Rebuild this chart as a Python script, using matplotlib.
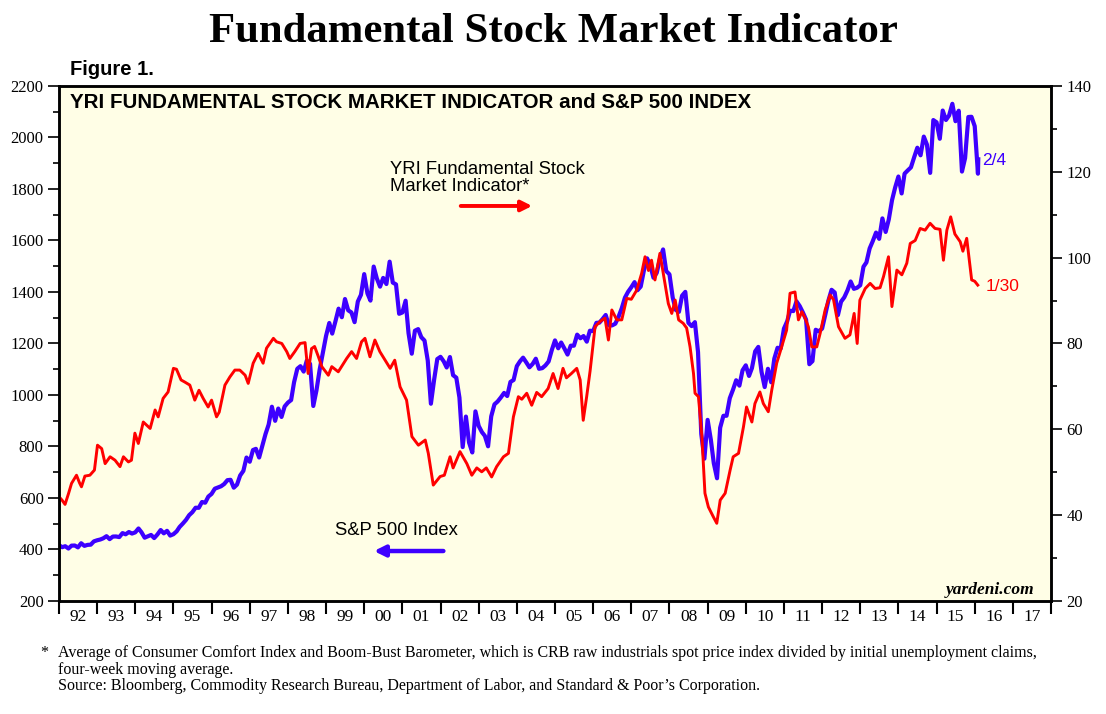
import numpy as np
import pandas as pd
import matplotlib
matplotlib.use('Agg')
import matplotlib.pyplot as plt
from matplotlib.ticker import MultipleLocator

# S&P 500, month-end values (Dec 1991 .. Jan 2016), big intra-month dips as seen on chart
sp500 = [
    417.1,
    408.8, 412.7, 403.7, 414.9, 415.4, 408.1, 424.2, 414.0, 417.8, 418.7, 431.4, 435.7,  # 92
    438.8, 443.4, 451.7, 440.2, 450.2, 450.5, 448.1, 463.6, 458.9, 467.8, 461.8, 466.5,  # 93
    481.6, 467.1, 445.8, 450.9, 456.5, 444.3, 458.3, 475.5, 462.7, 472.4, 454.0, 459.3,  # 94
    470.4, 487.4, 500.7, 514.7, 533.4, 544.8, 562.1, 561.9, 584.4, 581.5, 605.4, 615.9,  # 95
    636.0, 640.4, 645.5, 654.2, 669.1, 670.6, 639.9, 652.0, 687.3, 705.3, 757.0, 740.7,  # 96
    786.2, 790.8, 757.1, 801.3, 848.3, 885.1, 954.3, 899.5, 947.3, 914.6, 955.4, 970.4,  # 97
    980.3, 1049.3, 1101.8, 1111.8, 1090.8, 1133.8, 1120.7, 957.3, 1017.0, 1098.7, 1163.6, 1229.2,  # 98
    1279.6, 1238.3, 1286.4, 1335.2, 1301.8, 1372.7, 1328.7, 1320.4, 1282.7, 1362.9, 1389.0, 1469.3,  # 99
    1394.5, 1366.4, 1498.6, 1452.4, 1420.6, 1454.6, 1430.8, 1517.7, 1436.5, 1429.4, 1315.2, 1320.3,  # 00
    1366.0, 1239.9, 1160.3, 1249.5, 1255.8, 1224.4, 1211.2, 1133.6, 966.0, 1059.8, 1139.5, 1148.1,  # 01
    1130.2, 1106.7, 1147.4, 1076.9, 1067.1, 989.8, 797.7, 916.1, 815.3, 776.8, 936.3, 879.8,  # 02
    855.7, 841.2, 800.7, 916.9, 963.6, 974.5, 990.3, 1008.0, 996.0, 1050.7, 1058.2, 1111.9,  # 03
    1131.1, 1144.9, 1126.2, 1107.3, 1120.7, 1140.8, 1101.7, 1104.2, 1114.6, 1130.2, 1173.8, 1211.9,  # 04
    1181.3, 1203.6, 1180.6, 1156.9, 1191.5, 1191.3, 1234.2, 1220.3, 1228.8, 1207.0, 1249.5, 1248.3,  # 05
    1280.1, 1280.7, 1294.9, 1310.6, 1270.1, 1270.2, 1276.7, 1303.8, 1335.9, 1377.9, 1400.6, 1418.3,  # 06
    1438.2, 1406.8, 1420.9, 1482.4, 1530.6, 1503.4, 1455.3, 1474.0, 1526.8, 1565.2, 1481.1, 1468.4,  # 07
    1378.6, 1330.6, 1322.7, 1385.6, 1400.4, 1280.0, 1267.4, 1282.8, 1166.4, 848.9, 752.4, 903.3,  # 08
    825.9, 735.1, 676.5, 872.8, 919.1, 919.3, 987.5, 1020.6, 1057.1, 1036.2, 1095.6, 1115.1,  # 09
    1073.9, 1104.5, 1169.4, 1186.7, 1089.4, 1030.7, 1101.6, 1049.3, 1141.2, 1183.3, 1180.6, 1257.6,  # 10
    1286.1, 1327.2, 1325.8, 1363.6, 1345.2, 1320.6, 1292.3, 1119.5, 1131.4, 1253.3, 1247.0, 1257.6,  # 11
    1312.4, 1365.7, 1408.5, 1397.9, 1310.3, 1362.2, 1379.3, 1406.6, 1440.7, 1412.2, 1416.2, 1426.2,  # 12
    1498.1, 1514.7, 1569.2, 1597.6, 1630.7, 1606.3, 1685.7, 1633.0, 1681.6, 1756.5, 1805.8, 1848.4,  # 13
    1782.6, 1859.5, 1872.3, 1883.9, 1923.6, 1960.2, 1930.7, 2003.4, 1972.3, 1862.5, 2067.6, 2058.9,  # 14
    1995.0, 2104.5, 2067.9, 2085.5, 2130.8, 2063.1, 2103.8, 1867.6, 1920.0, 2079.4, 2080.4, 2043.9,  # 15
    1859.3,  # Jan 16
]
sp500_last_date = '2016-02-04'
sp500_last = 1915.1

# YRI Fundamental Stock Market Indicator (right axis)
yri_dates = [
    1992.00, 1992.08, 1992.16, 1992.25, 1992.33, 1992.46, 1992.54, 1992.59, 1992.68, 1992.81,
    1992.93, 1993.01, 1993.12, 1993.21, 1993.34, 1993.47, 1993.60, 1993.69, 1993.82, 1993.90,
    1993.99, 1994.08, 1994.21, 1994.39, 1994.52, 1994.60, 1994.73, 1994.86, 1995.00, 1995.08,
    1995.20, 1995.30, 1995.43, 1995.56, 1995.67, 1995.78, 1995.91, 1996.00, 1996.13, 1996.20,
    1996.35, 1996.48, 1996.61, 1996.74, 1996.88, 1996.96, 1997.09, 1997.22, 1997.35, 1997.44,
    1997.62, 1997.70, 1997.84, 1997.97, 1998.05, 1998.18, 1998.32, 1998.45, 1998.53, 1998.62,
    1998.70, 1998.80, 1998.89, 1999.06, 1999.15, 1999.32, 1999.54, 1999.67, 1999.80, 1999.93,
    2000.02, 2000.15, 2000.28, 2000.41, 2000.55, 2000.68, 2000.80, 2000.94, 2001.11, 2001.25,
    2001.42, 2001.60, 2001.68, 2001.81, 2001.99, 2002.10, 2002.25, 2002.33, 2002.51, 2002.69,
    2002.82, 2002.95, 2003.08, 2003.20, 2003.34, 2003.47, 2003.65, 2003.78, 2003.91, 2004.04,
    2004.13, 2004.26, 2004.39, 2004.52, 2004.65, 2004.82, 2004.95, 2005.08, 2005.21, 2005.30,
    2005.43, 2005.57, 2005.66, 2005.74, 2005.83, 2005.92, 2006.05, 2006.18, 2006.31, 2006.40,
    2006.49, 2006.62, 2006.75, 2006.88, 2007.00, 2007.14, 2007.27, 2007.36, 2007.45, 2007.53,
    2007.62, 2007.75, 2007.88, 2007.97, 2008.06, 2008.15, 2008.24, 2008.36, 2008.45, 2008.54,
    2008.63, 2008.67, 2008.76, 2008.85, 2008.93, 2009.02, 2009.15, 2009.24, 2009.33, 2009.46,
    2009.59, 2009.67, 2009.81, 2009.94, 2010.02, 2010.16, 2010.24, 2010.37, 2010.46, 2010.59,
    2010.68, 2010.81, 2010.94, 2011.07, 2011.16, 2011.29, 2011.38, 2011.47, 2011.55, 2011.64,
    2011.73, 2011.86, 2011.95, 2012.08, 2012.21, 2012.30, 2012.43, 2012.60, 2012.73, 2012.84,
    2012.92, 2012.99, 2013.13, 2013.26, 2013.39, 2013.52, 2013.61, 2013.74, 2013.83, 2013.96,
    2014.09, 2014.22, 2014.31, 2014.44, 2014.57, 2014.70, 2014.83, 2014.96, 2015.09, 2015.18,
    2015.27, 2015.37, 2015.48, 2015.62, 2015.69, 2015.79, 2015.92, 2016.00, 2016.08,
]
yri = [
    44.3, 43.5, 42.5, 45.0, 47.4, 49.3, 47.5, 46.6, 49.1, 49.3,
    50.5, 56.3, 55.5, 52.0, 53.6, 52.8, 51.3, 53.6, 52.4, 52.8,
    59.1, 56.7, 61.7, 60.2, 64.5, 62.9, 67.2, 68.7, 74.2, 74.0,
    71.5, 71.0, 70.3, 66.8, 69.1, 67.2, 65.2, 66.8, 62.9, 64.0,
    70.3, 72.2, 73.8, 73.8, 72.6, 70.7, 75.4, 77.7, 75.4, 78.9,
    81.2, 80.4, 80.0, 78.1, 76.5, 78.1, 80.0, 80.2, 73.0, 78.8,
    79.3, 76.9, 74.6, 72.6, 74.6, 73.4, 76.5, 78.1, 76.5, 80.4,
    81.2, 76.9, 80.8, 78.1, 76.1, 74.2, 76.1, 69.9, 66.8, 58.3,
    56.3, 57.5, 54.4, 47.0, 49.0, 49.3, 53.6, 51.0, 54.8, 52.0,
    49.3, 51.0, 50.1, 51.0, 48.9, 51.3, 53.6, 54.4, 62.9, 67.6,
    67.0, 68.4, 65.6, 68.6, 67.6, 69.5, 73.0, 69.5, 74.2, 72.0,
    73.0, 74.2, 71.5, 62.1, 67.6, 73.6, 83.9, 85.1, 85.9, 80.8,
    87.8, 85.5, 85.5, 90.5, 90.3, 92.4, 96.3, 100.2, 97.0, 99.4,
    94.8, 101.0, 94.0, 89.3, 87.0, 90.1, 85.5, 84.7, 83.6, 79.2,
    73.0, 68.4, 67.6, 58.3, 45.1, 41.9, 39.6, 38.1, 43.5, 45.1,
    50.5, 53.6, 54.4, 60.6, 65.2, 61.7, 66.0, 68.7, 66.0, 64.1,
    69.1, 75.4, 79.2, 83.1, 91.7, 92.0, 85.5, 87.4, 86.0, 83.9,
    79.2, 79.2, 82.4, 87.8, 91.3, 90.2, 83.9, 81.2, 82.0, 87.0,
    80.0, 90.1, 92.8, 94.0, 92.8, 93.0, 95.6, 100.2, 88.6, 97.1,
    96.0, 98.7, 103.3, 104.0, 106.8, 106.4, 108.0, 106.8, 106.6, 99.4,
    106.4, 109.5, 105.5, 103.7, 101.5, 104.5, 94.8, 94.5, 93.6,
]

year_labels = ['92', '93', '94', '95', '96', '97', '98', '99', '00', '01', '02', '03', '04',
               '05', '06', '07', '08', '09', '10', '11', '12', '13', '14', '15', '16', '17']

BLUE = '#3D00FF'
RED = '#FF0000'
SANS = 'Liberation Sans'
SERIF = 'Liberation Serif'


def decimal_year(d):
    d = pd.Timestamp(d)
    days = 366 if d.is_leap_year else 365
    return d.year + (d.dayofyear - 1) / days


sp_dates = list(pd.date_range('1991-12-31', periods=len(sp500), freq='ME'))
sp_x = [decimal_year(d) + 1 / 365 for d in sp_dates] + [decimal_year(sp500_last_date)]
sp_y = sp500 + [sp500_last]

fig = plt.figure(figsize=(11.06, 7.14), dpi=100)
ax = fig.add_axes([0.0533, 0.1583, 0.897, 0.7213])
ax.set_facecolor('#FFFEE6')
ax2 = ax.twinx()

ax.plot(sp_x, sp_y, color=BLUE, lw=3.0, solid_joinstyle='round')
ax2.plot(yri_dates, yri, color=RED, lw=2.1, solid_joinstyle='round')

ax.set_xlim(1992, 2018)
ax.set_ylim(200, 2200)
ax2.set_ylim(20, 140)

# x axis: year boundaries as ticks, labels centred in each year
ax.set_xticks(np.arange(1992, 2019))
ax.set_xticklabels([])
ax.set_xticks(np.arange(1992.5, 2018, 1), minor=True)
ax.set_xticklabels(year_labels, minor=True, fontfamily=SERIF, fontsize=12.5)
ax.tick_params(axis='x', which='major', direction='out', length=9, width=1.5)
ax.tick_params(axis='x', which='minor', length=0, pad=6)

ax.yaxis.set_major_locator(MultipleLocator(200))
ax.yaxis.set_minor_locator(MultipleLocator(100))
ax.tick_params(axis='y', which='major', direction='out', length=8, width=1.2,
               labelsize=12, pad=3)
ax.tick_params(axis='y', which='minor', direction='out', length=4, width=1.2)
for lab in ax.get_yticklabels():
    lab.set_fontfamily(SERIF)

ax2.yaxis.set_major_locator(MultipleLocator(20))
ax2.yaxis.set_minor_locator(MultipleLocator(10))
ax2.tick_params(axis='y', which='major', direction='out', length=8, width=1.2,
                labelsize=12, pad=3)
ax2.tick_params(axis='y', which='minor', direction='out', length=4, width=1.2)
for lab in ax2.get_yticklabels():
    lab.set_fontfamily(SERIF)

for a in (ax, ax2):
    for sp in a.spines.values():
        sp.set_linewidth(1.8)

# titles
fig.text(0.5, 0.9412, 'Fundamental Stock Market Indicator', ha='center', va='baseline',
         fontsize=30.8, fontweight='bold', fontfamily=SERIF)
fig.text(0.0635, 0.895, 'Figure 1.', ha='left', va='baseline',
         fontsize=14.5, fontweight='bold', fontfamily=SANS)
ax.text(0.0111, 0.957, 'YRI FUNDAMENTAL STOCK MARKET INDICATOR and S&P 500 INDEX',
        transform=ax.transAxes, ha='left', va='baseline', fontsize=14.8,
        fontweight='bold', fontfamily=SANS)

# series labels with arrows
ax.text(0.3337, 0.829, 'YRI Fundamental Stock', transform=ax.transAxes,
        ha='left', va='baseline', fontsize=13.3, fontfamily=SANS)
ax.text(0.3337, 0.796, 'Market Indicator*', transform=ax.transAxes,
        ha='left', va='baseline', fontsize=13.3, fontfamily=SANS)
ax.annotate('', xy=(0.477, 0.767), xytext=(0.405, 0.767), xycoords='axes fraction',
            arrowprops=dict(arrowstyle='-|>', color=RED, lw=2.8, mutation_scale=16,
                            shrinkA=0, shrinkB=0))

ax.text(0.278, 0.128, 'S&P 500 Index', transform=ax.transAxes,
        ha='left', va='baseline', fontsize=13.3, fontfamily=SANS)
ax.annotate('', xy=(0.3175, 0.097), xytext=(0.3875, 0.097), xycoords='axes fraction',
            arrowprops=dict(arrowstyle='-|>', color=BLUE, lw=3.2, mutation_scale=16,
                            shrinkA=0, shrinkB=0))

ax.text(0.9305, 0.8466, '2/4', transform=ax.transAxes, ha='left', va='baseline',
        fontsize=12.5, color=BLUE, fontfamily=SANS)
ax.text(0.9345, 0.602, '1/30', transform=ax.transAxes, ha='left', va='baseline',
        fontsize=12.5, color=RED, fontfamily=SANS)

ax.text(0.9829, 0.0136, 'yardeni.com', transform=ax.transAxes, ha='right', va='baseline',
        fontsize=12.5, fontweight='bold', fontstyle='italic', fontfamily=SERIF)

# footnote
fig.text(0.036, 0.080, '*', ha='left', va='baseline', fontsize=11.5, fontfamily=SERIF)
fig.text(0.0524, 0.080, 'Average of Consumer Comfort Index and Boom-Bust Barometer, which is '
         'CRB raw industrials spot price index divided by initial unemployment claims,',
         ha='left', va='baseline', fontsize=11.5, fontfamily=SERIF)
fig.text(0.0524, 0.0565, 'four-week moving average.',
         ha='left', va='baseline', fontsize=11.5, fontfamily=SERIF)
fig.text(0.0524, 0.033, 'Source: Bloomberg, Commodity Research Bureau, Department of Labor, '
         'and Standard & Poor\u2019s Corporation.',
         ha='left', va='baseline', fontsize=11.5, fontfamily=SERIF)

fig.savefig('out.png', dpi=100)
